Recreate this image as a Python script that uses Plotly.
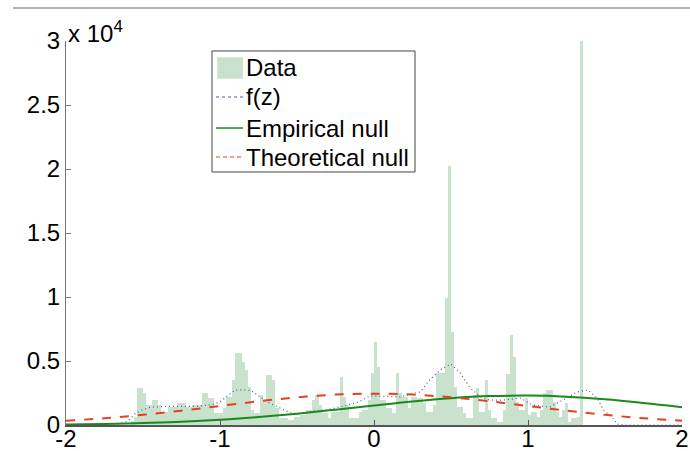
import plotly.graph_objects as go

# Histogram (bin width 0.02), centers from -1.57 to 1.35
bin_start = -1.57
bin_width = 0.02
counts = [
    300, 600, 2900, 2900, 2500, 1560, 1560, 1950, 1950, 1560,
    1000, 1000, 1400, 1400, 1400, 1700, 1700, 1700, 1400, 1400,
    1560, 1560, 1560, 2500, 2500, 2100, 2100, 930, 930, 930,
    1330, 2200, 2200, 3500, 5600, 5600, 4900, 4300, 2970, 1170,
    940, 940, 2340, 1950, 3900, 3900, 3500, 1330, 550, 550,
    550, 400, 400, 620, 620, 780, 780, 1170, 1170, 1950,
    2340, 1560, 940, 940, 550, 1000, 1000, 1000, 3750, 2200,
    1560, 550, 550, 550, 1000, 1170, 1170, 1950, 4100, 6500,
    4500, 1950, 1950, 1330, 1330, 940, 4060, 2500, 2200, 2200,
    1330, 2200, 2200, 2100, 2100, 1700, 1000, 1000, 1560, 4100,
    4100, 4100, 9900, 20200, 7300, 2970, 1400, 1400, 940, 550,
    550, 2340, 2900, 1000, 1000, 3500, 1170, 550, 550, 230,
    230, 1200, 4000, 7000, 5300, 1800, 1170, 1170, 2100, 780,
    1000, 1000, 620, 1170, 2500, 2730, 2730, 1800, 1000, 620,
    1170, 1700, 230, 550, 550, 620, 30000,
]
bin_centers = [round(bin_start + bin_width * i, 4) for i in range(len(counts))]

fz_x = [-2.0, -1.68, -1.6, -1.55, -1.5, -1.45, -1.35, -1.25, -1.15, -1.05,
        -1.0, -0.95, -0.9, -0.85, -0.8, -0.74, -0.675, -0.61, -0.545, -0.48,
        -0.4, -0.3, -0.22, -0.17, -0.1, -0.03, 0.05, 0.17, 0.3, 0.36,
        0.43, 0.5, 0.56, 0.62, 0.69, 0.75, 0.84, 0.95, 1.03, 1.14,
        1.25, 1.32, 1.39, 1.45, 1.49, 1.55, 1.58, 1.62, 2.0]
fz_y = [0, 0, 300, 900, 1200, 1400, 1450, 1450, 1450, 1600,
        1800, 2300, 2730, 2750, 2700, 2200, 1700, 1330, 950, 860,
        1100, 1200, 1400, 1560, 1800, 2250, 2250, 2200, 2580, 3500,
        4300, 4760, 4060, 2970, 2200, 1950, 1950, 2100, 1560, 1400,
        2100, 2580, 2730, 2100, 1170, 550, 80, 0, 0]

null_x = [-2, -1.75, -1.5, -1.25, -1, -0.75, -0.5, -0.25, 0, 0.25, 0.5, 0.75,
          1, 1.25, 1.5, 1.75, 2]
emp_null = [44, 84, 151, 256, 410, 620, 886, 1197, 1527, 1842, 2098, 2259,
            2297, 2208, 2005, 1720, 1395]
theo_null = [332, 530, 795, 1122, 1486, 1849, 2162, 2375, 2450, 2375, 2162, 1849,
             1486, 1122, 795, 530, 332]

x_ticks = [-2, -1, 0, 1, 2]
y_ticks = [0, 5000, 10000, 15000, 20000, 25000, 30000]
y_ticktext = ["0", "0.5", "1", "1.5", "2", "2.5", "3"]

legend_names = ["Data", "f(z)", "Empirical null", "Theoretical null"]

FONT = "Liberation Sans, Arial, sans-serif"
C_BAR = "#c8e2cd"
C_FZ = "#4a5aa8"
C_EMP = "#1a8a1a"
C_THEO = "#e8401c"

fig = go.Figure()
fig.add_trace(go.Bar(x=bin_centers, y=counts, width=bin_width, name=legend_names[0],
                     marker=dict(color=C_BAR, line=dict(width=0))))
fig.add_trace(go.Scatter(x=fz_x, y=fz_y, mode="lines", name=legend_names[1],
                         line=dict(color=C_FZ, width=1.2, dash="1px,3px")))
fig.add_trace(go.Scatter(x=null_x, y=emp_null, mode="lines", name=legend_names[2],
                         line=dict(color=C_EMP, width=2, shape="spline")))
fig.add_trace(go.Scatter(x=null_x, y=theo_null, mode="lines", name=legend_names[3],
                         line=dict(color=C_THEO, width=2, dash="dash", shape="spline")))

# Legend drawn as a boxed key in paper coordinates (MATLAB-style compact legend)
L_X0, L_X1, L_Y0, L_Y1 = 0.237, 0.5666, 0.6589, 0.974
row_y = [0.9297, 0.8542, 0.7734, 0.6979]
sym_x0, sym_x1 = 0.2435, 0.2873
text_x = 0.2890

shapes = [
    dict(type="line", xref="paper", yref="paper",
         x0=-0.086, x1=1.02, y0=1.086, y1=1.086,
         line=dict(color="#999", width=1.5)),
    dict(type="rect", xref="paper", yref="paper",
         x0=L_X0, x1=L_X1, y0=L_Y0, y1=L_Y1,
         fillcolor="white", line=dict(color="#444", width=1), layer="above"),
    dict(type="rect", xref="paper", yref="paper",
         x0=sym_x0 + 0.002, x1=sym_x1, y0=row_y[0] - 0.028, y1=row_y[0] + 0.028,
         fillcolor=C_BAR, line=dict(width=0), layer="above"),
    dict(type="line", xref="paper", yref="paper",
         x0=sym_x0, x1=sym_x1, y0=row_y[1], y1=row_y[1],
         line=dict(color=C_FZ, width=1, dash="dot"), layer="above"),
    dict(type="line", xref="paper", yref="paper",
         x0=sym_x0, x1=sym_x1, y0=row_y[2], y1=row_y[2],
         line=dict(color=C_EMP, width=1.5), layer="above"),
    dict(type="line", xref="paper", yref="paper",
         x0=sym_x0, x1=sym_x1, y0=row_y[3], y1=row_y[3],
         line=dict(color=C_THEO, width=1.2, dash="4px,3px"), layer="above"),
]

annotations = [
    dict(xref="paper", yref="paper", x=0.0, y=1.0, xanchor="left", yanchor="bottom",
         yshift=-8, text="x 10<sup>4</sup>", showarrow=False, font=dict(size=24)),
]
for name, yy in zip(legend_names, row_y):
    annotations.append(dict(xref="paper", yref="paper", x=text_x, y=yy,
                            xanchor="left", yanchor="middle", text=name,
                            showarrow=False, font=dict(size=24, color="black")))

fig.update_layout(
    width=690, height=451,
    margin=dict(l=66, r=8, t=41, b=26, autoexpand=False),
    paper_bgcolor="white", plot_bgcolor="white",
    font=dict(family=FONT, size=24, color="black"),
    bargap=0,
    showlegend=False,
    xaxis=dict(range=[-2, 2], tickvals=x_ticks, ticktext=[str(v) for v in x_ticks],
               showgrid=False, zeroline=False, showline=True, linecolor="#555",
               linewidth=1.5, ticks="inside", ticklen=5, tickcolor="#555",
               tickfont=dict(size=24), automargin=False, ticklabelstandoff=-9),
    yaxis=dict(range=[0, 30000], tickvals=y_ticks, ticktext=y_ticktext,
               showgrid=False, zeroline=False, showline=True, linecolor="#777",
               linewidth=1, ticks="inside", ticklen=5, tickcolor="#777",
               tickfont=dict(size=24), automargin=False),
    shapes=shapes,
    annotations=annotations,
)

fig.write_html("out.html")
